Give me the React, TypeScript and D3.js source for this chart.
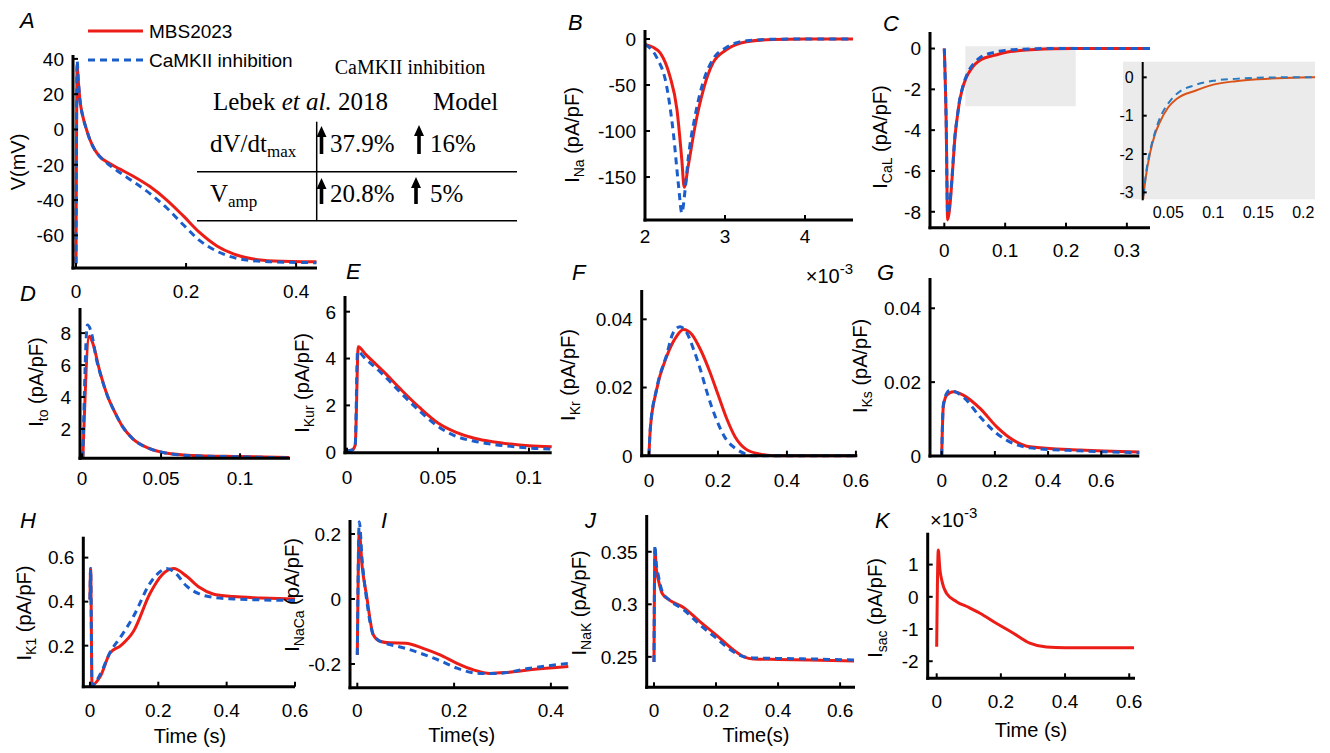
import React from 'react';
import * as d3 from 'd3';

type Pt = [number, number];

// ---------------- DATA ----------------
// A: membrane potential (t in s, V in mV)
const A_MBS: Pt[] = [[0,-76],[0.002,36],[0.004,28],[0.007,17],[0.0127,7],[0.019,0],[0.0255,-6],[0.034,-11.5],[0.0436,-15.5],[0.062,-19.5],[0.08,-22.5],[0.104,-26.5],[0.135,-32.5],[0.165,-40],[0.195,-49],[0.225,-58.5],[0.256,-66],[0.286,-70.5],[0.32,-73.3],[0.36,-74.5],[0.437,-75]];
const A_CaMKII: Pt[] = [[0,-76],[0.002,39],[0.004,29],[0.007,17],[0.0127,7],[0.019,0],[0.0255,-6],[0.034,-11.5],[0.0436,-15.5],[0.062,-20.5],[0.08,-24.5],[0.104,-29.5],[0.135,-36.5],[0.165,-44.5],[0.195,-54],[0.225,-63],[0.256,-69],[0.286,-72.5],[0.32,-74.3],[0.36,-75],[0.437,-75.5]];
// B: I_Na (t in ms x1e-3)
const B_MBS: Pt[] = [[2.0,-6],[2.1,-9],[2.19,-15],[2.31,-40],[2.4,-77],[2.46,-131],[2.49,-161],[2.54,-138],[2.625,-95],[2.73,-55],[2.85,-26],[3.02,-11.5],[3.27,-3],[3.6,-0.5],[4.0,0],[4.6,0]];
const B_CaMKII: Pt[] = [[2.0,-6],[2.146,-20],[2.27,-51],[2.354,-102],[2.42,-160],[2.46,-189],[2.5,-165],[2.54,-130],[2.625,-84],[2.73,-46],[2.85,-22],[3.02,-9],[3.27,-2],[3.6,-0.3],[4.0,0],[4.6,0]];
// C: I_CaL
const C_MBS: Pt[] = [[0,0],[0.003,-3.5],[0.0055,-8.4],[0.009,-7.8],[0.0122,-6.6],[0.0176,-4.3],[0.022,-3.2],[0.025,-2.6],[0.03,-1.95],[0.035,-1.5],[0.04,-1.2],[0.05,-0.78],[0.06,-0.55],[0.08,-0.35],[0.1,-0.19],[0.125,-0.1],[0.15,-0.05],[0.18,-0.015],[0.21,0],[0.338,0]];
const C_CaMKII: Pt[] = [[0,0],[0.003,-3.4],[0.0055,-8.1],[0.009,-7.6],[0.0122,-6.5],[0.0176,-4.25],[0.022,-3.2],[0.025,-2.55],[0.03,-1.9],[0.035,-1.45],[0.04,-1.1],[0.05,-0.68],[0.06,-0.42],[0.08,-0.2],[0.1,-0.09],[0.125,-0.04],[0.15,-0.01],[0.18,0],[0.21,0],[0.338,0]];
const C_zoomT: [number, number] = [0.0345, 0.216];
const C_zoomI: [number, number] = [-2.83, 0.11];
// D: I_to
const D_MBS: Pt[] = [[0.0005,0.17],[0.0046,7.8],[0.007,7.3],[0.011,5.7],[0.016,4.1],[0.021,3.0],[0.026,2.1],[0.032,1.4],[0.042,0.8],[0.053,0.5],[0.07,0.35],[0.1,0.28],[0.131,0.22]];
const D_CaMKII: Pt[] = [[0.0005,0.17],[0.0034,8.5],[0.006,8.0],[0.009,6.4],[0.012,5.3],[0.016,4.1],[0.021,3.0],[0.026,2.1],[0.032,1.4],[0.042,0.8],[0.053,0.5],[0.07,0.33],[0.1,0.26],[0.131,0.2]];
// E: I_Kur
const E_MBS: Pt[] = [[0,0.05],[0.003,0.1],[0.0045,0.3],[0.0062,4.5],[0.01,4.2],[0.02,3.45],[0.03,2.65],[0.04,1.9],[0.05,1.25],[0.06,0.85],[0.07,0.6],[0.08,0.45],[0.09,0.35],[0.1,0.28],[0.1125,0.23]];
const E_CaMKII: Pt[] = [[0,0.05],[0.003,0.1],[0.0045,0.3],[0.0058,4.3],[0.01,4.0],[0.02,3.3],[0.03,2.5],[0.04,1.75],[0.05,1.1],[0.06,0.68],[0.07,0.47],[0.08,0.34],[0.09,0.25],[0.1,0.18],[0.1125,0.14]];
// F: I_Kr
const F_MBS: Pt[] = [[0,0],[0.004,0.008],[0.022,0.0193],[0.051,0.029],[0.08,0.035],[0.1,0.037],[0.125,0.0355],[0.15,0.031],[0.175,0.025],[0.2,0.018],[0.225,0.011],[0.25,0.0055],[0.28,0.002],[0.32,0.0005],[0.36,0],[0.6,0]];
const F_CaMKII: Pt[] = [[0,0],[0.004,0.008],[0.022,0.0195],[0.051,0.0295],[0.07,0.036],[0.09,0.0378],[0.11,0.036],[0.13,0.031],[0.15,0.025],[0.167,0.019],[0.196,0.0105],[0.225,0.0046],[0.25,0.0022],[0.28,0.0005],[0.3,0],[0.6,0]];
// G: I_Ks
const G_MBS: Pt[] = [[0,0],[0.006,0.0134],[0.019,0.0165],[0.044,0.0174],[0.081,0.0165],[0.144,0.0129],[0.207,0.0079],[0.269,0.0043],[0.332,0.0025],[0.52,0.0016],[0.743,0.0011]];
const G_CaMKII: Pt[] = [[0,0],[0.006,0.0138],[0.019,0.017],[0.031,0.0178],[0.081,0.016],[0.144,0.0106],[0.207,0.0061],[0.269,0.0034],[0.332,0.0022],[0.52,0.0014],[0.743,0.0009]];
// H: I_K1
const H_MBS: Pt[] = [[0,0.41],[0.002,0.55],[0.006,0.02],[0.03,0.06],[0.059,0.167],[0.09,0.2],[0.127,0.264],[0.176,0.438],[0.21,0.52],[0.245,0.55],[0.283,0.515],[0.32,0.465],[0.36,0.435],[0.42,0.423],[0.5,0.417],[0.6,0.412]];
const H_CaMKII: Pt[] = [[0,0.41],[0.002,0.55],[0.006,0.02],[0.03,0.07],[0.059,0.17],[0.09,0.24],[0.127,0.332],[0.176,0.484],[0.205,0.536],[0.225,0.55],[0.25,0.53],[0.283,0.47],[0.32,0.435],[0.36,0.42],[0.42,0.412],[0.5,0.408],[0.6,0.405]];
// I: I_NaCa
const I_MBS: Pt[] = [[0,-0.172],[0.004,0.207],[0.01,0.1],[0.019,0.012],[0.033,-0.11],[0.047,-0.13],[0.067,-0.135],[0.1,-0.136],[0.136,-0.152],[0.171,-0.172],[0.206,-0.198],[0.24,-0.218],[0.274,-0.229],[0.309,-0.226],[0.357,-0.218],[0.436,-0.208]];
const I_CaMKII: Pt[] = [[0,-0.172],[0.004,0.238],[0.01,0.12],[0.019,0.0],[0.033,-0.11],[0.047,-0.13],[0.067,-0.14],[0.1,-0.152],[0.136,-0.17],[0.171,-0.19],[0.206,-0.213],[0.254,-0.229],[0.288,-0.229],[0.357,-0.213],[0.436,-0.198]];
// J: I_NaK
const J_MBS: Pt[] = [[0,0.245],[0.003,0.352],[0.007,0.335],[0.015,0.322],[0.027,0.31],[0.05,0.304],[0.095,0.297],[0.15,0.283],[0.2,0.271],[0.25,0.258],[0.29,0.25],[0.32,0.248],[0.4,0.2475],[0.5,0.247],[0.645,0.246]];
const J_CaMKII: Pt[] = [[0,0.245],[0.003,0.356],[0.007,0.34],[0.015,0.326],[0.027,0.312],[0.05,0.304],[0.095,0.295],[0.15,0.28],[0.2,0.268],[0.25,0.256],[0.29,0.25],[0.32,0.249],[0.4,0.2485],[0.5,0.248],[0.645,0.247]];
// K: I_sac (x1e-3)
const K_MBS: Pt[] = [[0,-1.55],[0.005,1.45],[0.01,0.85],[0.0156,0.52],[0.031,0.1],[0.062,-0.15],[0.1,-0.33],[0.135,-0.51],[0.187,-0.83],[0.239,-1.13],[0.29,-1.44],[0.342,-1.56],[0.4,-1.58],[0.5,-1.58],[0.615,-1.58]];

// Ticks
const A_xt = [0, 0.2, 0.4], A_yt = [-60, -40, -20, 0, 20, 40];
const B_xt = [2, 3, 4], B_yt = [-150, -100, -50, 0];
const C_xt = [0, 0.1, 0.2, 0.3], C_yt = [-8, -6, -4, -2, 0];
const Ci_xt = [0.05, 0.1, 0.15, 0.2], Ci_yt = [-3, -2, -1, 0];
const D_xt = [0, 0.05, 0.1], D_yt = [2, 4, 6, 8];
const E_xt = [0, 0.05, 0.1], E_yt = [0, 2, 4, 6];
const F_xt = [0, 0.2, 0.4, 0.6], F_yt = [0, 0.02, 0.04];
const G_xt = [0, 0.2, 0.4, 0.6], G_yt = [0, 0.02, 0.04];
const H_xt = [0, 0.2, 0.4, 0.6], H_yt = [0.2, 0.4, 0.6];
const I_xt = [0, 0.2, 0.4], I_yt = [-0.2, 0, 0.2];
const J_xt = [0, 0.2, 0.4, 0.6], J_yt = [0.25, 0.3, 0.35];
const K_xt = [0, 0.2, 0.4, 0.6], K_yt = [-2, -1, 0, 1];

// Legend / table text
const legendNames = ['MBS2023', 'CaMKII inhibition'];
const tableRows = [
  { name: 'dV/dt', sub: 'max', exp: '37.9%', model: '16%' },
  { name: 'V', sub: 'amp', exp: '20.8%', model: '5%' },
];

// ---------------- STYLE ----------------
const FONT = '"Liberation Sans", Arial, Helvetica, sans-serif';
const SERIF = '"Liberation Serif", "Times New Roman", serif';
const RED = '#ec1d16';
const BLUE = '#1c5dcc';
const ORANGE = '#d95319';
const MBLUE = '#2a7bc0';

type Series = { data: Pt[]; color: string; dashed?: boolean; width?: number };
type PanelSpec = {
  id: string;
  box: [number, number, number, number];
  xDomain: [number, number];
  yDomain: [number, number];
  xTicks: number[];
  yTicks: number[];
  series: Series[];
  xLabOff?: number;
  fs?: number;
  axisW?: number;
  noXAxis?: boolean;
  tickLen?: number;
  under?: (x: d3.ScaleLinear<number, number>, y: d3.ScaleLinear<number, number>) => React.ReactNode;
};

function Panel(p: PanelSpec) {
  const [L, R, T, B] = p.box;
  const x = d3.scaleLinear().domain(p.xDomain).range([L, R]);
  const y = d3.scaleLinear().domain(p.yDomain).range([B, T]);
  const fs = p.fs ?? 19;
  const aw = p.axisW ?? 3;
  const tl = p.tickLen ?? 5;
  const line = d3.line<Pt>().x(d => x(d[0])).y(d => y(d[1])).curve(d3.curveMonotoneX);
  const pad = p.id === 'ci' ? 0 : 3;
  return (
    <g>
      {p.under && p.under(x, y)}
      <clipPath id={`clip-${p.id}`}>
        <rect x={L} y={T - pad} width={R - L + pad} height={B - T + 2 * pad} />
      </clipPath>
      <g clipPath={`url(#clip-${p.id})`}>
        {p.series.map((s, i) => (
          <path key={i} d={line(s.data) || ''} fill="none" stroke={s.color}
            strokeWidth={s.width ?? 3} strokeDasharray={s.dashed ? '7 5' : undefined}
            strokeLinejoin="round" />
        ))}
      </g>
      <line x1={L} x2={L} y1={T} y2={B + aw / 2} stroke="#000" strokeWidth={aw} />
      {!p.noXAxis && <line x1={L - aw / 2} x2={R} y1={B} y2={B} stroke="#000" strokeWidth={aw} />}
      {p.xTicks.map(t => (
        <g key={'x' + t}>
          {!p.noXAxis && <line x1={x(t)} x2={x(t)} y1={B} y2={B - tl} stroke="#000" strokeWidth={2} />}
          <text x={x(t)} y={B + (p.xLabOff ?? 30)} fontSize={fs} textAnchor="middle">{String(t)}</text>
        </g>
      ))}
      {p.yTicks.map(t => (
        <g key={'y' + t}>
          <line x1={L} x2={L + tl} y1={y(t)} y2={y(t)} stroke="#000" strokeWidth={2} />
          <text x={L - 9} y={y(t) + fs * 0.36} fontSize={fs} textAnchor="end">{String(t)}</text>
        </g>
      ))}
    </g>
  );
}

function YLabel({ cx, cy, main, sub }: { cx: number; cy: number; main: string; sub?: string }) {
  return (
    <text transform={`translate(${cx + 7},${cy}) rotate(-90)`} fontSize={20} textAnchor="middle">
      {sub ? (
        <>
          I<tspan dy={5} fontSize={14}>{sub}</tspan><tspan dy={-5}>{' (pA/pF)'}</tspan>
        </>
      ) : main}
    </text>
  );
}

function Letter({ x, y, t }: { x: number; y: number; t: string }) {
  return <text x={x} y={y} fontSize={22} fontStyle="italic">{t}</text>;
}

function Arrow({ cx, top, bot }: { cx: number; top: number; bot: number }) {
  const hw = 5, sw = 1.8, hh = 11;
  const d = `M${cx},${top} L${cx + hw},${top + hh} L${cx + sw},${top + hh} L${cx + sw},${bot} L${cx - sw},${bot} L${cx - sw},${top + hh} L${cx - hw},${top + hh} Z`;
  return <path d={d} fill="#000" />;
}

const red = (d: Pt[]): Series => ({ data: d, color: RED });
const blue = (d: Pt[]): Series => ({ data: d, color: BLUE, dashed: true });

export default function App() {
  return (
    <svg width={1330} height={753} viewBox="0 0 1330 753"
      style={{ position: 'absolute', left: 0, top: 0, background: '#fff' }} fontFamily={FONT}>
      <rect x={0} y={0} width={1330} height={753} fill="#fff" />

      {/* A */}
      <Panel id="a" box={[73, 317, 55, 268]} xDomain={[-0.0055, 0.438]} yDomain={[-78.5, 42.2]}
        xTicks={A_xt} yTicks={A_yt} series={[red(A_MBS), blue(A_CaMKII)]} />
      <YLabel cx={18} cy={162} main="V(mV)" />
      <Letter x={20} y={28} t="A" />
      <line x1={88} x2={143} y1={31} y2={31} stroke={RED} strokeWidth={3} />
      <text x={149} y={38} fontSize={19}>{legendNames[0]}</text>
      <line x1={88} x2={143} y1={60} y2={60} stroke={BLUE} strokeWidth={3} strokeDasharray="7 5" />
      <text x={149} y={67} fontSize={19}>{legendNames[1]}</text>

      {/* table */}
      <g fontFamily={SERIF}>
        <text x={410} y={74} fontSize={20} textAnchor="middle">CaMKII inhibition</text>
        <text x={213} y={110} fontSize={25}>Lebek <tspan fontStyle="italic">et al.</tspan> 2018</text>
        <text x={433} y={110} fontSize={25}>Model</text>
        {tableRows.map((r, i) => {
          const by = 152 + i * 50;
          return (
            <g key={i}>
              <text x={210} y={by} fontSize={25}>{r.name}<tspan dy={5} fontSize={17}>{r.sub}</tspan></text>
              <Arrow cx={321.5} top={by - 26 + (i ? 2 : 0)} bot={by + 2} />
              <text x={330} y={by} fontSize={25}>{r.exp}</text>
              <Arrow cx={i ? 416 : 419} top={by - 27 + (i ? 2 : 0)} bot={by + 2} />
              <text x={430} y={by} fontSize={25}>{r.model}</text>
            </g>
          );
        })}
        <line x1={197} x2={517} y1={171.7} y2={171.7} stroke="#000" strokeWidth={1.5} />
        <line x1={197} x2={517} y1={220.7} y2={220.7} stroke="#000" strokeWidth={1.5} />
        <line x1={316.7} x2={316.7} y1={121.7} y2={220.7} stroke="#000" strokeWidth={1.5} />
      </g>

      {/* B */}
      <Panel id="b" box={[645, 853, 30, 220]} xDomain={[2.0, 4.6]} yDomain={[-196.7, 9.8]}
        xTicks={B_xt} yTicks={B_yt} xLabOff={23} series={[red(B_MBS), blue(B_CaMKII)]} />
      <YLabel cx={572} cy={135} main="" sub="Na" />
      <Letter x={568} y={30} t="B" />
      <text x={853} y={283} fontSize={20} textAnchor="end">×10<tspan dy={-9} fontSize={15}>-3</tspan></text>

      {/* C */}
      <Panel id="c" box={[930, 1150, 32, 227.7]} xDomain={[-0.0235, 0.338]} yDomain={[-8.78, 0.81]}
        xTicks={C_xt} yTicks={C_yt} xLabOff={29} series={[red(C_MBS), blue(C_CaMKII)]}
        under={(x, y) => (
          <rect x={x(C_zoomT[0])} y={y(C_zoomI[1])} width={x(C_zoomT[1]) - x(C_zoomT[0])}
            height={y(C_zoomI[0]) - y(C_zoomI[1])} fill="#ebebeb" />
        )} />
      <YLabel cx={880} cy={137} main="" sub="CaL" />
      <Letter x={883} y={31} t="C" />
      <rect x={1123} y={61.7} width={192} height={137.6} fill="#ebebeb" />
      <Panel id="ci" box={[1142.7, 1315, 62, 199.3]} xDomain={[0.0216, 0.213]} yDomain={[-3.18, 0.4]}
        xTicks={Ci_xt} yTicks={Ci_yt} xLabOff={19} fs={16} axisW={2} tickLen={4} noXAxis
        series={[{ data: C_MBS, color: ORANGE, width: 2 }, { data: C_CaMKII, color: MBLUE, width: 2, dashed: true }]} />

      {/* D */}
      <Panel id="d" box={[80, 290, 308, 458.3]} xDomain={[-0.0013, 0.1316]} yDomain={[0.17, 9.57]}
        xTicks={D_xt} yTicks={D_yt} xLabOff={27} series={[red(D_MBS), blue(D_CaMKII)]} />
      <YLabel cx={36} cy={382} main="" sub="to" />
      <Letter x={20} y={301} t="D" />

      {/* E */}
      <Panel id="e" box={[345, 551.7, 296, 452.7]} xDomain={[-0.0011, 0.1125]} yDomain={[-0.02, 6.67]}
        xTicks={E_xt} yTicks={E_yt} xLabOff={31} series={[red(E_MBS), blue(E_CaMKII)]} />
      <YLabel cx={302} cy={383} main="" sub="Kur" />
      <Letter x={346} y={279} t="E" />

      {/* F */}
      <Panel id="f" box={[641.7, 857.3, 290, 455.7]} xDomain={[-0.021, 0.604]} yDomain={[0, 0.0486]}
        xTicks={F_xt} yTicks={F_yt} xLabOff={31} series={[red(F_MBS), blue(F_CaMKII)]} />
      <YLabel cx={568} cy={375} main="" sub="Kr" />
      <Letter x={572} y={280} t="F" />

      {/* G */}
      <Panel id="g" box={[930, 1139.3, 278, 456]} xDomain={[-0.044, 0.743]} yDomain={[0, 0.0482]}
        xTicks={G_xt} yTicks={G_yt} xLabOff={31} series={[red(G_MBS), blue(G_CaMKII)]} />
      <YLabel cx={860} cy={366} main="" sub="Ks" />
      <Letter x={877} y={280} t="G" />

      {/* H */}
      <Panel id="h" box={[83.3, 295, 536.7, 686.7]} xDomain={[-0.0195, 0.6]} yDomain={[0.0136, 0.695]}
        xTicks={H_xt} yTicks={H_yt} series={[red(H_MBS), blue(H_CaMKII)]} />
      <YLabel cx={24} cy={613} main="" sub="K1" />
      <Letter x={20} y={528} t="H" />
      <text x={190} y={743} fontSize={20} textAnchor="middle">Time (s)</text>

      {/* I */}
      <Panel id="i" box={[350, 568.3, 520, 687.7]} xDomain={[-0.0151, 0.436]} yDomain={[-0.273, 0.243]}
        xTicks={I_xt} yTicks={I_yt} xLabOff={29} series={[red(I_MBS), blue(I_CaMKII)]} />
      <YLabel cx={292} cy={595} main="" sub="NaCa" />
      <Letter x={381} y={528} t="I" />
      <text x={461.7} y={742} fontSize={20} textAnchor="middle">Time(s)</text>

      {/* J */}
      <Panel id="j" box={[646.7, 855, 515, 687.3]} xDomain={[-0.0235, 0.648]} yDomain={[0.221, 0.385]}
        xTicks={J_xt} yTicks={J_yt} series={[red(J_MBS), blue(J_CaMKII)]} />
      <YLabel cx={579} cy={603} main="" sub="NaK" />
      <Letter x={585} y={528} t="J" />
      <text x={756} y={742} fontSize={20} textAnchor="middle">Time(s)</text>

      {/* K */}
      <Panel id="k" box={[927.7, 1135, 532.7, 678.3]} xDomain={[-0.028, 0.618]} yDomain={[-2.53, 1.99]}
        xTicks={K_xt} yTicks={K_yt} series={[red(K_MBS)]} />
      <YLabel cx={875} cy={608} main="" sub="sac" />
      <Letter x={875} y={528} t="K" />
      <text x={930} y={527} fontSize={20}>×10<tspan dy={-9} fontSize={15}>-3</tspan></text>
      <text x={1031} y={737} fontSize={20} textAnchor="middle">Time (s)</text>
    </svg>
  );
}
